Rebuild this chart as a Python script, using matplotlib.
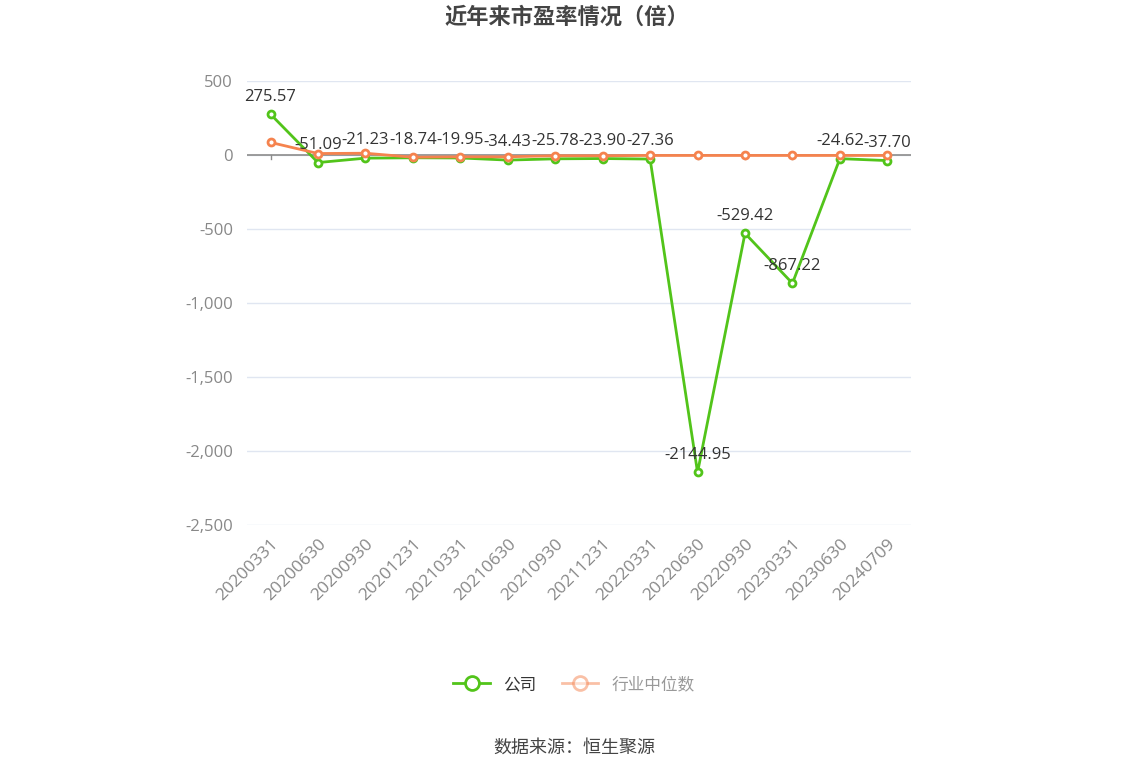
import matplotlib.pyplot as plt
from matplotlib.ticker import FuncFormatter

plt.rcParams['font.family'] = ['Open Sans', 'Noto Sans CJK SC', 'DejaVu Sans']

dates = ['20200331', '20200630', '20200930', '20201231', '20210331', '20210630',
         '20210930', '20211231', '20220331', '20220630', '20220930', '20230331',
         '20230630', '20240709']
company = [275.57, -51.09, -21.23, -18.74, -19.95, -34.43, -25.78, -23.90,
           -27.36, -2144.95, -529.42, -867.22, -24.62, -37.70]
industry = [85, 10, 12, -15, -12, -12, -5, -5, -3, -3, -3, -3, -3, -3]

green = '#52c41a'
orange = '#f5834e'

fig = plt.figure(figsize=(11.48, 7.76), dpi=100)
ax = fig.add_axes([0.215, 0.3235, 0.5786, 0.5721])

x = list(range(len(dates)))
ax.plot(x, company, color=green, lw=2, marker='o', ms=5, mfc='white',
        mec=green, mew=2, zorder=3, label='公司')
ax.plot(x, industry, color=orange, lw=2, marker='o', ms=5, mfc='white',
        mec=orange, mew=2, zorder=4, label='行业中位数')

for xi, v in zip(x, company):
    ax.annotate(f'{v:.2f}', (xi, v), xytext=(0, 7), textcoords='offset points',
                ha='center', va='bottom', fontsize=12, color='#333333', zorder=5)

ax.set_xlim(-0.5, len(dates) - 0.5)
ax.set_ylim(-2500, 500)
ax.set_yticks(range(-2500, 501, 500))
ax.yaxis.set_major_formatter(FuncFormatter(lambda v, p: f'{int(v):,}'))
ax.grid(axis='y', color='#e0e6f1', lw=1)
ax.set_axisbelow(True)
ax.axhline(0, color='#8c8c8c', lw=1.2, zorder=2)
for s in ax.spines.values():
    s.set_visible(False)

ax.set_xticks(x)
ax.set_xticklabels(dates, rotation=45, ha='right', rotation_mode='anchor')
ax.tick_params(axis='x', length=0, colors='#888888', labelsize=12.5, pad=8)
ax.tick_params(axis='y', length=0, colors='#888888', labelsize=12, pad=10)
for xi in x:
    ax.plot([xi, xi], [0, -25], color='#8c8c8c', lw=1, zorder=2)

fig.text(0.494, 0.977, '近年来市盈率情况（倍）', ha='center', va='center',
         fontsize=16, fontweight='bold', color='#444444')

leg = fig.legend(loc='center', bbox_to_anchor=(0.5, 0.117), ncol=2,
                 frameon=False, fontsize=12, handlelength=2.2,
                 columnspacing=1.5, markerscale=2.0)
leg.get_texts()[0].set_color('#333333')
leg.get_texts()[1].set_color('#999999')
leg.legend_handles[1].set_alpha(0.5)

fig.text(0.5, 0.036, '数据来源：恒生聚源', ha='center', va='center',
         fontsize=13, color='#444444')

fig.savefig('out.png', dpi=100)
